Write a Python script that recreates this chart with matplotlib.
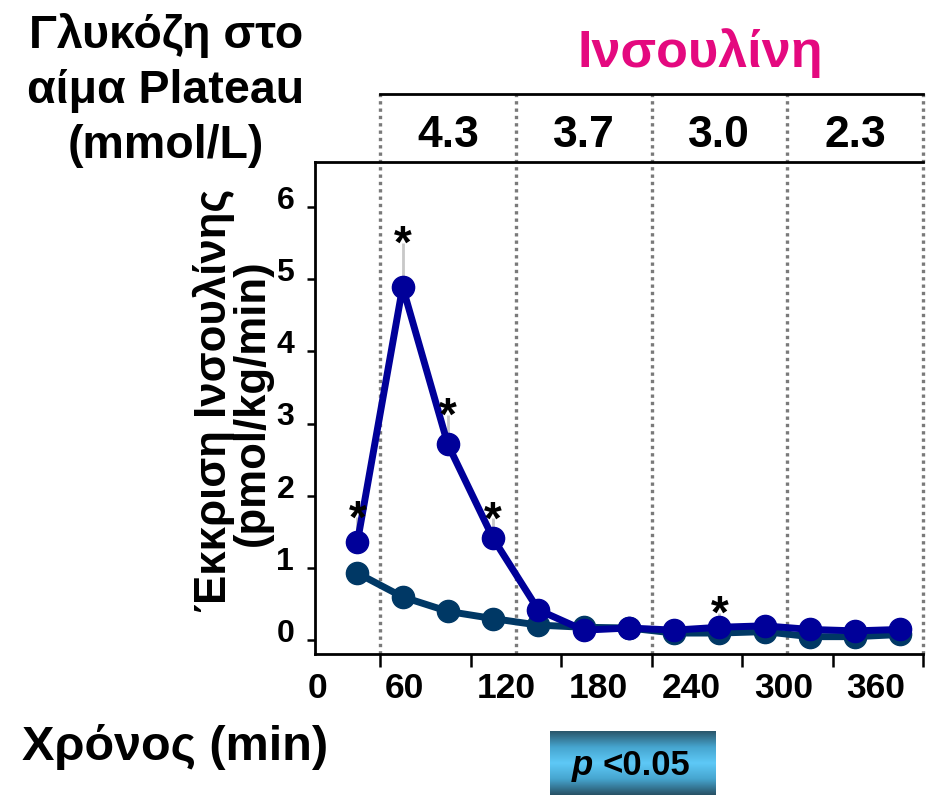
from __future__ import annotations

import matplotlib

matplotlib.use("Agg")
import matplotlib.pyplot as plt
import numpy as np
from matplotlib.colors import LinearSegmentedColormap

# Insulin secretion during stepped hypoglycaemic clamp
time_min = [45, 75, 105, 135, 165, 195, 225, 255, 285, 315, 345, 375, 405]
insulin_a = [1.36, 4.89, 2.71, 1.41, 0.42, 0.14, 0.17, 0.14, 0.18, 0.20, 0.15, 0.13, 0.15]
insulin_a_err = [0.34, 0.61, 0.41, 0.28, 0.08, 0.05, 0.05, 0.05, 0.20, 0.06, 0.05, 0.05, 0.05]
insulin_b = [0.93, 0.60, 0.40, 0.30, 0.21, 0.18, 0.17, 0.10, 0.10, 0.12, 0.05, 0.05, 0.08]
significant = [True, True, True, True, False, False, False, False, True, False, False, False, False]

step_edges = [60, 150, 240, 330, 420]
glucose_plateaus = ["4.3", "3.7", "3.0", "2.3"]

x_ticks = [60, 120, 180, 240, 300, 360, 420]
x_tick_labels = ["0", "60", "120", "180", "240", "300", "360"]
y_ticks = [0, 1, 2, 3, 4, 5, 6]

W, H = 937, 800
COLOR_A = "#000099"
COLOR_B = "#003865"
MAGENTA = "#E4097F"


def fx(px: float) -> float:
    return px / W


def fy(py: float) -> float:
    return 1 - py / H


def _gradient_box(fig, x0, y0, x1, y1):
    box = fig.add_axes([fx(x0), fy(y1), fx(x1 - x0), (y1 - y0) / H])
    cmap = LinearSegmentedColormap.from_list(
        "bar", [(0.0, "#2a566b"), (0.25, "#46a5cf"), (0.5, "#5ec9f7"), (0.75, "#46a5cf"), (1.0, "#285165")]
    )
    grad = np.linspace(0, 1, 200).reshape(-1, 1)
    box.imshow(grad, aspect="auto", cmap=cmap, extent=(0, 1, 0, 1))
    box.set_axis_off()
    return box


def main() -> None:
    plt.rcParams["font.family"] = ["Liberation Sans", "DejaVu Sans"]
    plt.rcParams["font.weight"] = "bold"

    fig = plt.figure(figsize=(W / 100, H / 100), dpi=100)
    ax = fig.add_axes([fx(315), fy(654), fx(923 - 315), (654 - 162) / H])
    ax.set_xlim(16.9, 420)
    ax.set_ylim(-0.19, 6.62)

    for side in ["left", "bottom", "top"]:
        ax.spines[side].set_linewidth(2)
    ax.spines["right"].set_visible(False)

    # bottom axis: ticks at every hour, labels sit just right of the tick
    ax.set_xticks(x_ticks)
    ax.set_xticklabels([])
    ax.tick_params(axis="x", direction="out", length=9, width=1.8)
    label_pos = [ax.get_xlim()[0]] + x_ticks[:-1]
    for i, (xp, lab) in enumerate(zip(label_pos, x_tick_labels)):
        dx = -5 if i == 0 else 2 + 1.3 * i
        ax.annotate(lab, xy=(xp, 0), xycoords=ax.get_xaxis_transform(), xytext=(dx, -25),
                    textcoords="offset points", ha="left", va="center", fontsize=25.5, fontweight="bold")

    ax.set_yticks(y_ticks)
    ax.set_yticklabels([str(v) for v in y_ticks], fontsize=23, fontweight="bold")
    ax.tick_params(axis="y", direction="out", length=6, width=1.8, pad=9)
    offset = matplotlib.transforms.ScaledTranslation(0, 7 / 72, fig.dpi_scale_trans)
    for lab in ax.get_yticklabels():
        lab.set_transform(lab.get_transform() + offset)

    # clamp steps: dotted separators reaching up into the header band
    top_band = 7.56
    for e in step_edges:
        ax.plot([e, e], [ax.get_ylim()[0], top_band + 0.03], color="#7a7a7a", lw=2.4,
                dashes=(1.0, 1.2), clip_on=False, zorder=1)
    ax.plot([step_edges[0], step_edges[-1]], [top_band, top_band], color="black", lw=2, clip_on=False)
    for lo, hi, g in zip(step_edges[:-1], step_edges[1:], glucose_plateaus):
        ax.text((lo + hi) / 2, 6.99, g, ha="center", va="center", fontsize=32, fontweight="bold", clip_on=False)

    ax.plot(time_min, insulin_b, color=COLOR_B, lw=5, marker="o", ms=16, zorder=3, clip_on=False)
    tops = np.asarray(insulin_a) + np.asarray(insulin_a_err)
    ax.vlines(time_min, insulin_a, tops, color="#c8c8c8", lw=2, zorder=2)
    ax.plot(time_min, insulin_a, color=COLOR_A, lw=5, marker="o", ms=16, zorder=4, clip_on=False)

    for t, top, sig in zip(time_min, tops, significant):
        if sig:
            ax.annotate("*", xy=(t, top), xytext=(0, -11), textcoords="offset points",
                        ha="center", va="baseline", fontsize=33, fontweight="bold", zorder=5)

    # texts around the plot
    fig.text(fx(700), fy(67), "Ινσουλίνη", color=MAGENTA, fontsize=37.5, fontweight="bold",
             ha="center", va="baseline")
    for line, base in zip(["Γλυκόζη στο", "αίμα Plateau", "(mmol/L)"], [48, 103, 158]):
        fig.text(fx(166), fy(base), line, fontsize=33.5, fontweight="bold", ha="center", va="baseline")
    fig.text(fx(22), fy(760), "Χρόνος (min)", fontsize=35, fontweight="bold", ha="left", va="baseline")
    fig.text(fx(214), fy(400), "Έκκριση Ινσουλίνης", rotation=90, fontsize=31.5, fontweight="bold",
             ha="center", va="center")
    fig.text(fx(252), fy(403), "(pmol/kg/min)", rotation=90, fontsize=31.5, fontweight="bold",
             ha="center", va="center")

    _gradient_box(fig, 550, 731, 716, 795)
    fig.text(fx(572), fy(775), "p", fontsize=25, fontweight="bold", fontstyle="italic", ha="left", va="baseline")
    fig.text(fx(603), fy(775), "<0.05", fontsize=25, fontweight="bold", ha="left", va="baseline")

    fig.savefig("out.png", dpi=100)
    plt.close(fig)


if __name__ == "__main__":
    main()
